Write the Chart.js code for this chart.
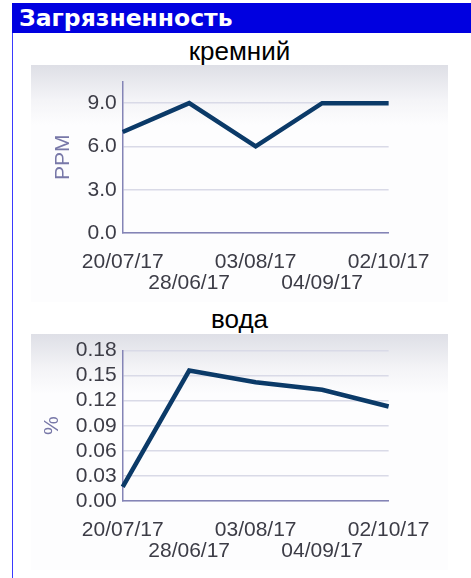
<!DOCTYPE html>
<html>
<head>
<meta charset="utf-8">
<script src="https://cdn.jsdelivr.net/npm/chart.js@4"></script>
<style>
  body { margin: 0; background: #fff; width: 471px; height: 578px; overflow: hidden; position: relative; font-family: "Liberation Sans", Arial, sans-serif; }
  #header { position: absolute; left: 12px; top: 3px; width: 459px; height: 30px; background: #0000e0; color: #fff;
            font: bold 23.5px "DejaVu Sans", sans-serif; line-height: 31px; padding-left: 7px; box-sizing: border-box; }
  #leftline { position: absolute; left: 12px; top: 33px; width: 1px; height: 545px; background: #3a3aff; }
  .title { position: absolute; left: 31px; width: 417px; text-align: center; font-size: 26px; color: #000; }
  .panel { position: absolute; left: 31px; width: 417px;
           background: linear-gradient(to bottom, #dedfe6 0px, #f4f4f7 35px, #fdfdfe 60px, #fdfdfe 100%); }
</style>
</head>
<body>
<div id="header">Загрязненность</div>
<div id="leftline"></div>

<div class="title" style="top:37px;line-height:28px;">кремний</div>
<div class="panel" style="top:65px;height:237px;"><canvas id="silicon" width="417" height="237"></canvas></div>

<div class="title" style="top:305px;line-height:28px;">вода</div>
<div class="panel" style="top:334px;height:236px;"><canvas id="water" width="417" height="236"></canvas></div>

<script>
// sample dates (in the order they appear on the axis)
const dates = ['20/07/17', '28/06/17', '03/08/17', '04/09/17', '02/10/17'];
const siliconPpm = [7, 9, 6, 9, 9];
const waterPct = [0.017, 0.156, 0.142, 0.133, 0.113];

const siliconMax = 10.5, siliconStep = 1.5;
const waterMax = 0.18, waterStep = 0.03;

const LINE = '#0b3a68';
const GRID = '#d9dae7';
const AXIS = '#8484b6';
const TICK = '#3c3c46';
const TICK_FONT = { family: '"Liberation Sans", Arial, sans-serif', size: 21, lineHeight: 1 };

function makeChart(id, values, yTitle, yMax, yStep, yLabel, padLeft) {
  const plotLeft = 91.7;
  const ctx = document.getElementById(id).getContext('2d');
  return new Chart(ctx, {
    type: 'line',
    data: {
      labels: dates,
      datasets: [{
        data: values,
        borderColor: LINE,
        borderWidth: 4.5,
        pointRadius: 0,
        tension: 0,
        fill: false
      }]
    },
    options: {
      responsive: false,
      animation: false,
      layout: { padding: { left: padLeft, right: 52.3, top: 16, bottom: 0 } },
      plugins: { legend: { display: false }, tooltip: { enabled: false } },
      scales: {
        x: {
          offset: false,
          grid: { display: false, drawTicks: false },
          border: { color: AXIS, width: 1.5 },
          ticks: {
            color: TICK, font: TICK_FONT, padding: 18.5,
            autoSkip: false, maxRotation: 0,
            callback: (v, i) => i % 2 === 0 ? [dates[i], ''] : ['', dates[i]]
          },
          afterFit: s => { s.height = 69; }
        },
        y: {
          min: 0, max: yMax,
          grid: { color: GRID, lineWidth: 1.5, drawTicks: false },
          border: { color: AXIS, width: 1.5 },
          ticks: { stepSize: yStep, color: TICK, font: TICK_FONT, padding: 6, callback: yLabel },
          title: { display: true, text: yTitle, color: '#7878a8', padding: 0,
                   font: { family: '"Liberation Sans", Arial, sans-serif', size: 21 } },
          afterFit: s => { s.width = plotLeft - padLeft; }
        }
      }
    }
  });
}

makeChart('silicon', siliconPpm, 'PPM', siliconMax, siliconStep,
  v => Math.abs(v / 3 - Math.round(v / 3)) < 1e-6 ? v.toFixed(1) : '', 20);
makeChart('water', waterPct, '%', waterMax, waterStep, v => v.toFixed(2), 9);
</script>
</body>
</html>
